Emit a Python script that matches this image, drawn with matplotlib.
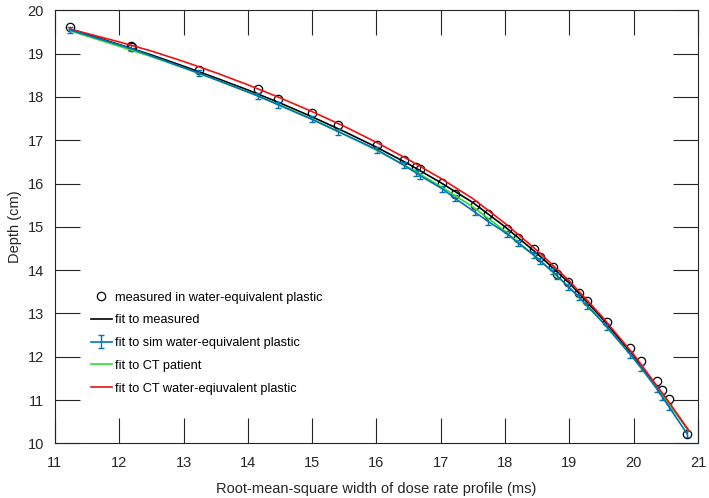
import matplotlib.pyplot as plt
import numpy as np

plt.rcParams['font.family'] = ['Liberation Sans', 'DejaVu Sans']

# measured points (rms width in ms, depth in cm)
meas_x = [11.23, 12.18, 12.20, 13.24, 14.16, 14.47, 15.00, 15.40, 16.01, 16.43,
          16.62, 16.68, 17.02, 17.22, 17.53, 17.74, 18.03, 18.20, 18.45, 18.54,
          18.74, 18.81, 18.98, 19.15, 19.28, 19.59, 19.95, 20.12, 20.36, 20.44,
          20.55, 20.83]
meas_y = [19.61, 19.17, 19.15, 18.62, 18.18, 17.95, 17.62, 17.35, 16.90, 16.55,
          16.38, 16.33, 16.01, 15.76, 15.50, 15.30, 14.95, 14.74, 14.49, 14.30,
          14.08, 13.92, 13.72, 13.47, 13.28, 12.80, 12.20, 11.90, 11.44, 11.23,
          11.02, 10.22]

# simulated water-equivalent plastic (with error bars)
sim_x = [11.23, 12.18, 13.24, 14.16, 14.47, 15.00, 15.40, 16.01, 16.43, 16.62,
         16.68, 17.02, 17.22, 17.53, 17.74, 18.03, 18.20, 18.45, 18.54, 18.74,
         18.81, 18.98, 19.15, 19.28, 19.59, 19.95, 20.12, 20.36, 20.44, 20.55,
         20.83]
sim_y = [19.55, 19.12, 18.55, 18.02, 17.82, 17.48, 17.20, 16.78, 16.42, 16.24,
         16.18, 15.88, 15.66, 15.34, 15.12, 14.84, 14.63, 14.34, 14.22, 13.97,
         13.87, 13.62, 13.38, 13.18, 12.68, 12.05, 11.74, 11.26, 11.08, 10.84,
         10.22]
sim_err = [0.07] * len(sim_x)

# fitted curves
fit_x = [11.23, 12.0, 12.5, 13.0, 13.5, 14.0, 14.5, 15.0, 15.5, 16.0, 16.5,
         17.0, 17.5, 18.0, 18.5, 19.0, 19.5, 20.0, 20.5, 20.85]
fit_meas = [19.57, 19.21, 18.97, 18.71, 18.44, 18.16, 17.86, 17.54, 17.20, 16.84, 16.45,
            16.02, 15.56, 15.00, 14.38, 13.70, 12.90, 12.02, 11.03, 10.30]
fit_ct_patient = [19.53, 19.17, 18.93, 18.67, 18.40, 18.12, 17.81, 17.49, 17.14, 16.77, 16.37,
                  15.93, 15.46, 14.90, 14.28, 13.60, 12.82, 11.96, 11.00, 10.30]
fit_ct_water = [19.57, 19.27, 19.06, 18.82, 18.56, 18.28, 17.98, 17.66, 17.32, 16.95, 16.55,
                16.12, 15.65, 15.08, 14.45, 13.75, 12.94, 12.05, 11.05, 10.31]

fig = plt.figure(figsize=(7.09, 4.98), dpi=100)
ax = fig.add_axes([0.0774, 0.1098, 0.9071, 0.8695])

ax.plot(meas_x, meas_y, 'o', mfc='none', mec='black', ms=6, mew=0.9,
        label='measured in water-equivalent plastic')
ax.plot(fit_x, fit_meas, color='black', lw=1.2, label='fit to measured')
ax.errorbar(sim_x, sim_y, yerr=sim_err, color='#0072BD', lw=1.2, elinewidth=1,
            capsize=2, label='fit to sim water-equivalent plastic')
ax.plot(fit_x, fit_ct_patient, color='#2ddd2d', lw=1.2, label='fit to CT patient')
ax.plot(fit_x, fit_ct_water, color='#ee1111', lw=1.2, label='fit to CT water-eqiuvalent plastic')

ax.set_xlim(11, 21)
ax.set_ylim(10, 20)
ax.set_xticks(np.arange(11, 22, 1))
ax.set_yticks(np.arange(10, 21, 1))
ax.tick_params(direction='in', length=18, width=0.8, top=True, right=True,
               colors='#262626', labelsize=10.5)
ax.tick_params(axis='x', pad=9)
ax.tick_params(axis='y', pad=8)
for s in ax.spines.values():
    s.set_color('#262626')
    s.set_linewidth(0.8)

ax.set_xlabel('Root-mean-square width of dose rate profile (ms)', fontsize=10.5,
              color='#262626', labelpad=9)
ax.set_ylabel('Depth (cm)', fontsize=10.5, color='#262626', labelpad=4)

handles, labels = ax.get_legend_handles_labels()
order = ['measured in water-equivalent plastic', 'fit to measured',
         'fit to sim water-equivalent plastic', 'fit to CT patient',
         'fit to CT water-eqiuvalent plastic']
idx = [labels.index(o) for o in order]
ax.legend([handles[i] for i in idx], [labels[i] for i in idx],
          loc='upper left', bbox_to_anchor=(0.056, 0.35), frameon=False,
          borderpad=0, borderaxespad=0, handlelength=1.65, handletextpad=0.2,
          labelspacing=0.84, fontsize=9.2, numpoints=1)

fig.savefig('out.png', dpi=100)
